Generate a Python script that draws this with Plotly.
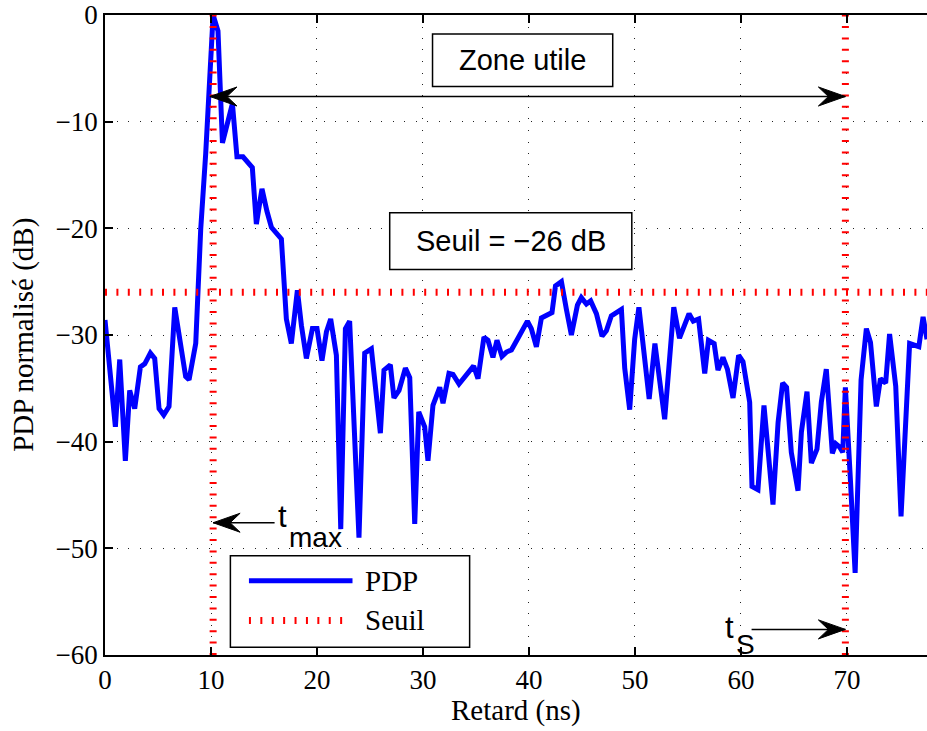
import plotly.graph_objects as go

# ---------------- data ----------------
retard_ns = [0.0, 0.98, 1.39, 1.92, 2.33, 2.80, 3.34, 3.75, 4.28, 4.69, 5.10, 5.54, 6.04, 6.58,
             7.61, 7.93, 8.56, 9.03, 9.50, 9.97, 10.2, 10.66, 11.08, 12.02, 12.45, 13.02, 13.9,
             14.28, 14.81, 15.28, 15.7, 16.64, 17.11, 17.58, 18.15, 18.53, 19.0, 19.57, 20.0,
             20.47, 20.89, 21.29, 21.83, 22.24, 22.68, 23.08, 23.96, 24.5, 25.13, 25.98, 26.32,
             26.92, 27.26, 27.74, 28.34, 28.75, 29.22, 29.6, 30.16, 30.47, 30.94, 31.58, 31.89,
             32.45, 32.83, 33.4, 34.09, 34.78, 35.19, 35.75, 36.13, 36.6, 36.98, 37.45, 37.87,
             38.34, 38.96, 39.85, 40.22, 40.7, 41.17, 41.64, 42.17, 42.5, 43.06, 43.53, 44.0,
             44.57, 44.94, 45.42, 45.82, 46.36, 46.89, 47.3, 47.77, 48.25, 48.72, 49.03, 49.5,
             49.97, 50.37, 51.34, 51.88, 52.8, 53.66, 54.2, 55.1, 55.5, 56.0, 56.58, 56.93,
             57.47, 57.83, 58.3, 58.72, 59.25, 59.78, 60.19, 60.82, 61.04, 61.6, 62.17, 63.02,
             63.5, 63.93, 64.3, 64.75, 65.38, 65.7, 66.23, 66.64, 67.17, 67.58, 68.05, 68.62,
             68.94, 69.3, 69.6, 69.85, 70.32, 70.77, 71.33, 71.83, 72.22, 72.77, 73.16, 73.65,
             74.02, 74.6, 75.1, 75.91, 76.78, 77.18, 77.55]
pdp_db = [-28.6, -38.6, -32.3, -41.8, -35.2, -36.9, -33.0, -32.7, -31.7, -32.2, -36.9, -37.5, -36.7, -27.4,
          -33.9, -34.2, -30.8, -20.1, -13.0, -4.7, 0.0, -1.5, -12.0, -8.3, -13.3, -13.3, -14.3,
          -19.6, -16.3, -18.4, -19.9, -21.0, -28.5, -30.8, -25.8, -29.1, -32.2, -29.4, -29.4,
          -32.4, -29.7, -28.5, -31.9, -48.2, -29.4, -28.7, -49.0, -31.7, -31.3, -39.2, -33.3,
          -32.8, -35.9, -35.2, -33.1, -34.0, -47.7, -37.2, -38.6, -41.8, -36.6, -34.9, -36.4,
          -33.6, -33.7, -34.6, -33.8, -32.9, -34.1, -30.2, -30.5, -32.1, -30.5, -32.0, -31.6,
          -31.4, -30.3, -28.7, -29.4, -31.1, -28.4, -28.2, -27.9, -25.4, -25.0, -27.6, -30.0,
          -27.2, -26.5, -27.1, -26.8, -28.0, -30.1, -29.6, -28.2, -27.9, -27.6, -33.1, -37.0,
          -30.4, -27.4, -36.0, -30.8, -37.9, -27.4, -30.3, -28.0, -28.7, -28.5, -33.6, -30.5,
          -30.8, -33.3, -32.1, -33.2, -35.9, -31.9, -32.5, -36.3, -44.2, -44.5, -36.6, -45.9,
          -38.2, -34.5, -34.9, -41.0, -44.6, -39.1, -35.3, -42.0, -40.7, -36.3, -33.2, -41.1,
          -40.2, -40.5, -41.0, -34.9, -43.5, -52.3, -34.2, -29.4, -30.7, -36.7, -34.1, -34.5,
          -29.9, -34.8, -47.0, -30.8, -31.1, -28.3, -30.4]

seuil_db = -26
t_max = 10.2
t_s = 69.85
x_range = [0, 77.55]
y_range = [-60, 0]
x_ticks = [0, 10, 20, 30, 40, 50, 60, 70]
y_ticks = [0, -10, -20, -30, -40, -50, -60]

SERIF = "Liberation Serif, Times New Roman, serif"
SANS = "Liberation Sans, Arial, sans-serif"
RED_DASH = "2px,9.4px"

fig = go.Figure()
fig.add_trace(go.Scatter(x=retard_ns, y=pdp_db, mode="lines",
                         line=dict(color="#0000ff", width=5), showlegend=False))
fig.add_trace(go.Scatter(x=x_range, y=[seuil_db, seuil_db], mode="lines",
                         line=dict(color="#ff0000", width=7, dash=RED_DASH), showlegend=False))
for tv in (t_max, t_s):
    fig.add_trace(go.Scatter(x=[tv, tv], y=y_range, mode="lines",
                             line=dict(color="#ff0000", width=7, dash=RED_DASH), showlegend=False))

shapes = []
annots = []

def arrow_head(x, y, direction):
    s = 1 if direction == "left" else -1
    path = f"M0,0 L{27*s},9.5 L{17*s},0 L{27*s},-9.5 Z"
    return dict(type="path", xref="x", yref="y", xsizemode="pixel", ysizemode="pixel",
                xanchor=x, yanchor=y, path=path, fillcolor="black",
                line=dict(color="black", width=1), layer="above")

# Zone utile double arrow
y_zone = -7.64
shapes.append(dict(type="line", xref="x", yref="y", x0=t_max - 0.3, x1=t_s, y0=y_zone, y1=y_zone,
                   line=dict(color="black", width=1.5)))
shapes.append(arrow_head(t_max - 0.3, y_zone, "left"))
shapes.append(arrow_head(t_s, y_zone, "right"))

# t_max arrow
y_tmax = -47.6
shapes.append(dict(type="line", xref="x", yref="y", x0=t_max, x1=16.0, y0=y_tmax, y1=y_tmax,
                   line=dict(color="black", width=1.5)))
shapes.append(arrow_head(t_max, y_tmax, "left"))

# t_S arrow
y_ts = -57.6
shapes.append(dict(type="line", xref="x", yref="y", x0=61.0, x1=t_s, y0=y_ts, y1=y_ts,
                   line=dict(color="black", width=1.5)))
shapes.append(arrow_head(t_s, y_ts, "right"))

# text boxes
shapes.append(dict(type="rect", xref="x", yref="y", x0=30.9, x1=47.9, y0=-1.77, y1=-6.71,
                   fillcolor="white", line=dict(color="black", width=1.5), layer="above"))
annots.append(dict(x=39.4, y=-4.2, xref="x", yref="y", text="Zone utile", showarrow=False,
                   font=dict(family=SANS, size=29, color="black")))
shapes.append(dict(type="rect", xref="x", yref="y", x0=26.86, x1=49.7, y0=-18.55, y1=-23.86,
                   fillcolor="white", line=dict(color="black", width=1.5), layer="above"))
annots.append(dict(x=38.3, y=-21.2, xref="x", yref="y", text="Seuil = \u221226 dB", showarrow=False,
                   font=dict(family=SANS, size=29, color="black")))

# t labels
annots.append(dict(x=16.1, y=-47.0, xref="x", yref="y", text="t", showarrow=False,
                   xanchor="left", yanchor="middle", font=dict(family=SANS, size=31, color="black")))
annots.append(dict(x=17.2, y=-49.0, xref="x", yref="y", text="max", showarrow=False,
                   xanchor="left", yanchor="middle", font=dict(family=SANS, size=28, color="black")))
annots.append(dict(x=58.3, y=-57.4, xref="x", yref="y", text="t", showarrow=False,
                   xanchor="left", yanchor="middle", font=dict(family=SANS, size=31, color="black")))
annots.append(dict(x=59.3, y=-59.0, xref="x", yref="y", text="S", showarrow=False,
                   xanchor="left", yanchor="middle", font=dict(family=SANS, size=28, color="black")))

# legend (drawn)
shapes.append(dict(type="rect", xref="x", yref="y", x0=11.83, x1=34.4, y0=-50.7, y1=-59.27,
                   fillcolor="white", line=dict(color="black", width=1.5), layer="above"))
shapes.append(dict(type="line", xref="x", yref="y", x0=13.58, x1=23.35, y0=-53.03, y1=-53.03,
                   line=dict(color="#0000ff", width=5), layer="above"))
shapes.append(dict(type="line", xref="x", yref="y", x0=13.58, x1=22.7, y0=-56.76, y1=-56.76,
                   line=dict(color="#ff0000", width=7, dash=RED_DASH), layer="above"))
annots.append(dict(x=24.3, y=-53.03, xref="x", yref="y", text="PDP", showarrow=False,
                   xanchor="left", yanchor="middle", font=dict(family=SERIF, size=29, color="black")))
annots.append(dict(x=24.3, y=-56.76, xref="x", yref="y", text="Seuil", showarrow=False,
                   xanchor="left", yanchor="middle", font=dict(family=SERIF, size=29, color="black")))

# axis titles
annots.append(dict(x=0.5, y=-0.087, xref="paper", yref="paper", text="Retard (ns)", showarrow=False,
                   xanchor="center", yanchor="middle", font=dict(family=SERIF, size=29, color="black")))
annots.append(dict(x=-0.1, y=0.5, xref="paper", yref="paper", text="PDP normalisé (dB)",
                   showarrow=False, textangle=-90, xanchor="center", yanchor="middle",
                   font=dict(family=SERIF, size=29, color="black")))

axis_common = dict(showline=True, linecolor="black", linewidth=1.5, ticks="inside", ticklen=8,
                   tickcolor="black", tickwidth=1.5, showgrid=True, gridcolor="#222222",
                   gridwidth=1, griddash="1px,10.5px", zeroline=False,
                   ticklabeloverflow="allow",
                   tickfont=dict(family=SERIF, size=27, color="black"))

fig.update_layout(
    width=927, height=731,
    margin=dict(l=105, r=0, t=11, b=76),
    plot_bgcolor="white", paper_bgcolor="white",
    showlegend=False,
    shapes=shapes, annotations=annots,
    xaxis=dict(range=x_range, tickvals=x_ticks, mirror="ticks", **axis_common),
    yaxis=dict(range=y_range, tickvals=y_ticks, mirror=False, **axis_common),
)

fig.write_html("out.html")
